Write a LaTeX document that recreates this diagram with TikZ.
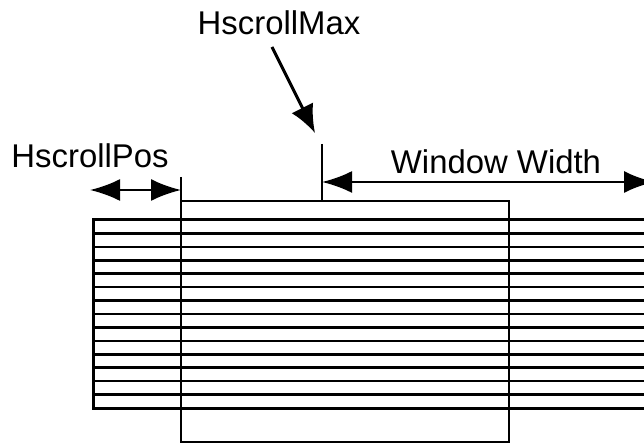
\documentclass[tikz,border=0pt]{standalone}
\usepackage{fontspec}
\setmainfont{Liberation Sans}
\usetikzlibrary{arrows.meta}
\begin{document}
\begin{tikzpicture}[x=1bp,y=-1bp,
  lbl/.style={font=\fontsize{33}{33}\selectfont, inner sep=0pt, anchor=base},
  dim/.style={line width=2.4bp, {Latex[length=30bp,width=22bp]}-{Latex[length=30bp,width=22bp]}},
  ptr/.style={line width=3bp, -{Latex[length=28bp,width=24bp]}},
  thin/.style={line width=2.6bp},
  thick/.style={line width=3bp}]
\useasboundingbox (0,0) rectangle (644,444);
\begin{scope}
\clip (0,0) rectangle (644,444);
% striped wide box
\foreach \k in {1,...,13} {
  \draw[thin] (93,{220+\k*13.43}) -- (660,{220+\k*13.43});
}
\draw[thick] (660,220) -- (93,220) -- (93,408) -- (660,408);
% tall window rectangle
\draw[thin] (181,201) rectangle (509,442);
\coordinate (posL) at (90,190);
\coordinate (posR) at (181,190);
\coordinate (maxTop) at (322,144);
\coordinate (maxBot) at (322,201);
\coordinate (wwL) at (322,182);
\coordinate (wwR) at (654,182);
\coordinate (maxTip) at (315,133);
\draw[thin] (181,177) -- (181,201);
\draw[thin] (maxTop) -- (maxBot);
\draw[dim] (posL) -- (posR);
\draw[dim] (wwL) -- (wwR);
\end{scope}
\node[lbl] (hmax) at (279,35) {HscrollMax};
\node[lbl] (hpos) at (90,168) {HscrollPos};
\node[lbl] (ww) at (496,174) {Window Width};
\draw[ptr] (272,47) -- (maxTip);
\end{tikzpicture}
\end{document}
